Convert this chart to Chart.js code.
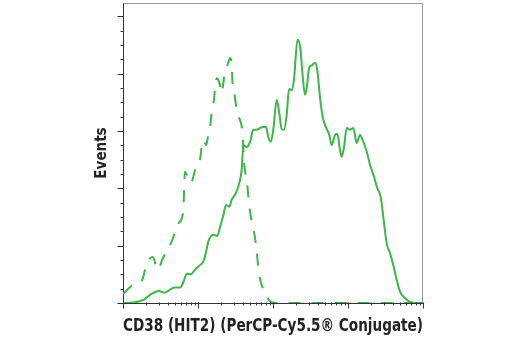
<!DOCTYPE html>
<html>
<head>
<meta charset="utf-8">
<script src="https://cdn.jsdelivr.net/npm/chart.js@4"></script>
<style>
  html, body { margin: 0; padding: 0; background: #fff; }
  #wrap { width: 520px; height: 350px; }
</style>
</head>
<body>
<div id="wrap"><canvas id="histChart" width="520" height="350"></canvas></div>
<script>
// CD38 stained sample (solid) and isotype control (dashed)
const cd38Intensity = [10, 14, 19, 24, 30, 36, 42, 49, 58, 64, 71, 80, 91, 106, 118, 128, 137, 160, 181, 197,
  218, 236, 262, 281, 321, 355, 382, 402, 446, 494, 546, 606, 671, 743, 807, 866, 932, 1009, 1120, 1213,
  1306, 1402, 1523, 1634, 1776, 1905, 2122, 2312, 2489, 2672, 2814, 3048, 3281, 3631, 3896, 4233, 4600, 5137, 5633, 6063,
  6710, 7200, 7823, 8241, 8846, 9610, 10630, 11770, 13060, 14450, 16000, 17760, 19650, 22220, 24590, 27290, 29560, 32810, 36310, 40180,
  44600, 49350, 57540, 67080, 82410, 100000];
const cd38Events = [0, 1, 6, 16, 21, 18, 23, 27, 27, 37, 51, 50, 58, 66, 72, 89, 107, 119, 117, 133,
  153, 171, 168, 180, 192, 209, 232, 275, 272, 281, 302, 302, 305, 307, 307, 289, 281, 302, 354, 331,
  303, 302, 328, 373, 371, 390, 459, 445, 395, 363, 375, 411, 414, 419, 406, 359, 324, 305, 293, 275,
  293, 295, 267, 255, 272, 305, 302, 305, 279, 293, 281, 264, 241, 220, 200, 185, 150, 104, 87, 66,
  40, 20, 8, 2, 0, 0];

const isotypeIntensity = [10, 13.5, 18, 20, 23, 25, 29, 34, 40, 47, 52, 61, 64, 67, 74, 80, 94, 106, 112, 118,
  128, 137, 145, 152, 163, 169, 178, 192, 207, 218, 229, 251, 267, 281, 287, 302, 321, 338, 363, 390,
  414, 446, 494, 546, 588, 651, 692, 799, 912, 1063, 100000];
const isotypeEvents = [16, 31, 40, 61, 78, 80, 58, 78, 95, 115, 136, 148, 168, 229, 217, 209, 237, 249, 272, 284,
  275, 293, 307, 333, 354, 375, 392, 385, 366, 385, 403, 417, 427, 418, 389, 371, 345, 328, 319, 299,
  241, 214, 159, 131, 105, 52, 35, 16, 3, 0, 0];

// axis range and tick marks
const xMin = 10, xMax = 100000;
const yMax = 523;
const yMajorTicks = [0, 100, 200, 300, 400, 500];
const yMinorStep = 25;

const green = '#3db54a';
const axisColor = '#333333';
const fontFamily = "'Liberation Sans Narrow', 'DejaVu Sans Condensed', 'Liberation Sans', sans-serif";

function toPoints(xs, ys) {
  return xs.map((x, i) => ({ x: x, y: ys[i] }));
}

// tick marks outside the plot plus the light frame on top/right
const frameTicks = {
  id: 'frameTicks',
  afterDraw(chart) {
    const ctx = chart.ctx;
    const area = chart.chartArea;
    const xs = chart.scales.x;
    const ys = chart.scales.y;
    const L = Math.round(area.left) + 0.5;
    const R = Math.round(area.right) - 0.5;
    const T = Math.round(area.top) + 0.5;
    const B = Math.round(area.bottom) - 0.5;
    ctx.save();
    ctx.lineWidth = 1;
    ctx.strokeStyle = '#9a9a9a';
    ctx.beginPath();
    ctx.moveTo(L, T); ctx.lineTo(R, T); ctx.lineTo(R, B);
    ctx.stroke();

    ctx.strokeStyle = axisColor;
    ctx.beginPath();
    // y ticks
    for (let v = 0; v <= yMax; v += yMinorStep) {
      const y = Math.round(ys.getPixelForValue(v)) + 0.5;
      const len = yMajorTicks.includes(v) ? 6 : 3;
      ctx.moveTo(L - len, y); ctx.lineTo(L, y);
    }
    // x ticks, decades and 2..9 in between
    for (let d = xMin; d <= xMax; d *= 10) {
      for (let k = 1; k <= 9; k++) {
        const v = d * k;
        if (v > xMax) break;
        const x = Math.round(xs.getPixelForValue(v)) + 0.5;
        const len = k === 1 ? 6 : 3;
        ctx.moveTo(x, B); ctx.lineTo(x, B + len);
      }
    }
    ctx.stroke();
    ctx.restore();
  }
};

const ctx = document.getElementById('histChart').getContext('2d');
const histChart = new Chart(ctx, {
  type: 'line',
  data: {
    datasets: [{
      label: 'CD38',
      data: toPoints(cd38Intensity, cd38Events),
      borderColor: green,
      borderWidth: 2,
      pointRadius: 0,
      fill: false,
      cubicInterpolationMode: 'monotone'
    }, {
      label: 'Isotype',
      data: toPoints(isotypeIntensity, isotypeEvents),
      borderColor: green,
      borderWidth: 2,
      borderDash: [12, 11],
      pointRadius: 0,
      fill: false,
      cubicInterpolationMode: 'monotone'
    }]
  },
  options: {
    responsive: false,
    animation: false,
    layout: { padding: { top: 3, right: 97, left: 0, bottom: 0 } },
    plugins: {
      legend: { display: false },
      tooltip: { enabled: false }
    },
    scales: {
      x: {
        type: 'logarithmic',
        min: xMin,
        max: xMax,
        ticks: { display: false },
        grid: { display: false },
        border: { display: true, color: axisColor, width: 1 },
        title: {
          display: true,
          text: 'CD38 (HIT2) (PerCP-Cy5.5® Conjugate)',
          color: '#222',
          font: { family: fontFamily, size: 17.2, weight: 'bold' },
          padding: { top: 0, bottom: 13 }
        },
        afterFit(scale) { scale.height = 47; }
      },
      y: {
        type: 'linear',
        min: 0,
        max: yMax,
        ticks: { display: false },
        grid: { display: false },
        border: { display: true, color: axisColor, width: 1 },
        title: {
          display: true,
          text: 'Events',
          color: '#222',
          font: { family: fontFamily, size: 15, weight: 'bold' },
          padding: { top: 93, bottom: 0 }
        },
        afterFit(scale) { scale.width = 123; }
      }
    }
  },
  plugins: [frameTicks]
});
</script>
</body>
</html>
